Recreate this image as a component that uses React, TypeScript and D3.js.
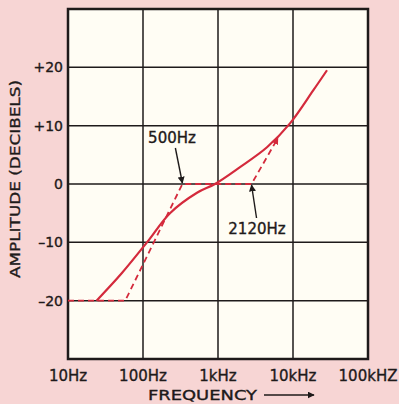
import React, { useEffect, useRef } from "react";
import * as d3 from "d3";

// axis ticks
const xTicks = [10, 100, 1000, 10000, 100000];
const xTickLabels = ["10Hz", "100Hz", "1kHz", "10kHz", "100kHZ"];
const yTicks = [-20, -10, 0, 10, 20];
const yTickLabels = ["–20", "–10", "0", "+10", "+20"];

// measured response (solid)
const responseFreq = [24, 52, 113, 229, 525, 910, 1965, 4500, 9120, 18500, 28400];
const responseDb = [-20, -15.3, -10, -5, -1.5, 0, 2.9, 6.3, 10.4, 16, 19.5];

// straight-line asymptotes (dashed)
const asymFreq = [10, 58, 335, 2800, 6300];
const asymDb = [-20, -20, 0, 0, 7.9];

// annotated corner frequencies
const noteLabels = ["500Hz", "2120Hz"];
const noteFreq = [335, 2800];

const RED = "#d42a3c";
const INK = "#1e1a1a";
const FONT = "DejaVu Sans, sans-serif";

const App = () => {
  const svgRef = useRef<SVGSVGElement>(null);

  useEffect(() => {
    const width = 399;
    const height = 404;
    const svg = d3.select(svgRef.current).attr("width", width).attr("height", height);
    svg.selectAll("*").remove();

    const x = d3.scaleLog().domain([10, 100000]).range([68, 368]);
    const y = d3.scaleLinear().domain([-30, 30]).range([359, 9]);

    const defs = svg.append("defs");
    const head = (id: string, color: string) =>
      defs
        .append("marker")
        .attr("id", id)
        .attr("viewBox", "0 0 10 10")
        .attr("refX", 9)
        .attr("refY", 5)
        .attr("markerWidth", 7)
        .attr("markerHeight", 7)
        .attr("markerUnits", "userSpaceOnUse")
        .attr("orient", "auto")
        .append("path")
        .attr("d", "M0,0 L10,5 L0,10 z")
        .attr("fill", color);
    head("blackHead", INK);
    head("redHead", RED);

    // page background
    svg.append("rect").attr("width", width).attr("height", height).attr("fill", "#f7d5d4");

    const [x0, x1] = x.range();
    const [y0, y1] = y.range();

    // plot area
    svg
      .append("rect")
      .attr("x", x0)
      .attr("y", y1)
      .attr("width", x1 - x0)
      .attr("height", y0 - y1)
      .attr("fill", "#fffdf4");

    // grid
    svg
      .append("g")
      .selectAll("line")
      .data(xTicks.slice(1, -1))
      .join("line")
      .attr("x1", (d) => x(d))
      .attr("x2", (d) => x(d))
      .attr("y1", y1)
      .attr("y2", y0)
      .attr("stroke", INK)
      .attr("stroke-width", 1.5);
    svg
      .append("g")
      .selectAll("line")
      .data(yTicks)
      .join("line")
      .attr("x1", x0)
      .attr("x2", x1)
      .attr("y1", (d) => y(d))
      .attr("y2", (d) => y(d))
      .attr("stroke", INK)
      .attr("stroke-width", 1.5);

    // frame
    svg
      .append("rect")
      .attr("x", x0)
      .attr("y", y1)
      .attr("width", x1 - x0)
      .attr("height", y0 - y1)
      .attr("fill", "none")
      .attr("stroke", INK)
      .attr("stroke-width", 2.5);

    // asymptote lines
    const asym = asymFreq.map((f, i) => [x(f), y(asymDb[i])] as [number, number]);
    svg
      .append("path")
      .attr("d", d3.line()(asym))
      .attr("fill", "none")
      .attr("stroke", RED)
      .attr("stroke-width", 1.8)
      .attr("stroke-dasharray", "6 4")
      .attr("marker-end", "url(#redHead)");

    // response curve
    const resp = responseFreq.map((f, i) => [x(f), y(responseDb[i])] as [number, number]);
    svg
      .append("path")
      .attr("d", d3.line().curve(d3.curveCatmullRom.alpha(0.5))(resp))
      .attr("fill", "none")
      .attr("stroke", RED)
      .attr("stroke-width", 2.2);

    const text = (sel: any) =>
      sel.attr("font-family", FONT).attr("fill", INK).attr("stroke", INK).attr("stroke-width", 0.35);

    // y ticks
    svg
      .append("g")
      .selectAll("text")
      .data(yTicks)
      .join("text")
      .attr("x", 63)
      .attr("y", (d) => y(d) + 5)
      .attr("text-anchor", "end")
      .attr("font-size", 14)
      .text((d, i) => yTickLabels[i])
      .call(text);

    // x ticks
    svg
      .append("g")
      .selectAll("text")
      .data(xTicks)
      .join("text")
      .attr("x", (d) => x(d))
      .attr("y", 381)
      .attr("text-anchor", "middle")
      .attr("font-size", 15)
      .text((d, i) => xTickLabels[i])
      .call(text);

    // axis titles
    svg
      .append("text")
      .attr("transform", "translate(20,179) rotate(-90)")
      .attr("text-anchor", "middle")
      .attr("font-size", 14)
      .attr("textLength", 198)
      .attr("lengthAdjust", "spacingAndGlyphs")
      .text("AMPLITUDE (DECIBELS)")
      .call(text);
    svg
      .append("text")
      .attr("x", 148)
      .attr("y", 400)
      .attr("font-size", 13.5)
      .attr("textLength", 109)
      .attr("lengthAdjust", "spacingAndGlyphs")
      .text("FREQUENCY")
      .call(text);
    svg
      .append("line")
      .attr("x1", 264)
      .attr("x2", 314)
      .attr("y1", 395)
      .attr("y2", 395)
      .attr("stroke", INK)
      .attr("stroke-width", 1.6)
      .attr("marker-end", "url(#blackHead)");

    // corner annotations
    const tails = [
      [-7, -36],
      [5, 34],
    ];
    const labelPos = [
      [172, 143],
      [257, 234],
    ];
    noteFreq.forEach((f, i) => {
      const tx = x(f);
      const ty = y(0);
      svg
        .append("line")
        .attr("x1", tx + tails[i][0])
        .attr("y1", ty + tails[i][1])
        .attr("x2", tx)
        .attr("y2", ty + (i === 0 ? -1 : 1))
        .attr("stroke", INK)
        .attr("stroke-width", 1.4)
        .attr("marker-end", "url(#blackHead)");
      svg
        .append("text")
        .attr("x", labelPos[i][0])
        .attr("y", labelPos[i][1])
        .attr("text-anchor", "middle")
        .attr("font-size", 15)
        .text(noteLabels[i])
        .call(text);
    });
  }, []);

  return <svg ref={svgRef} style={{ position: "absolute", left: 0, top: 0 }}></svg>;
};

export default App;
